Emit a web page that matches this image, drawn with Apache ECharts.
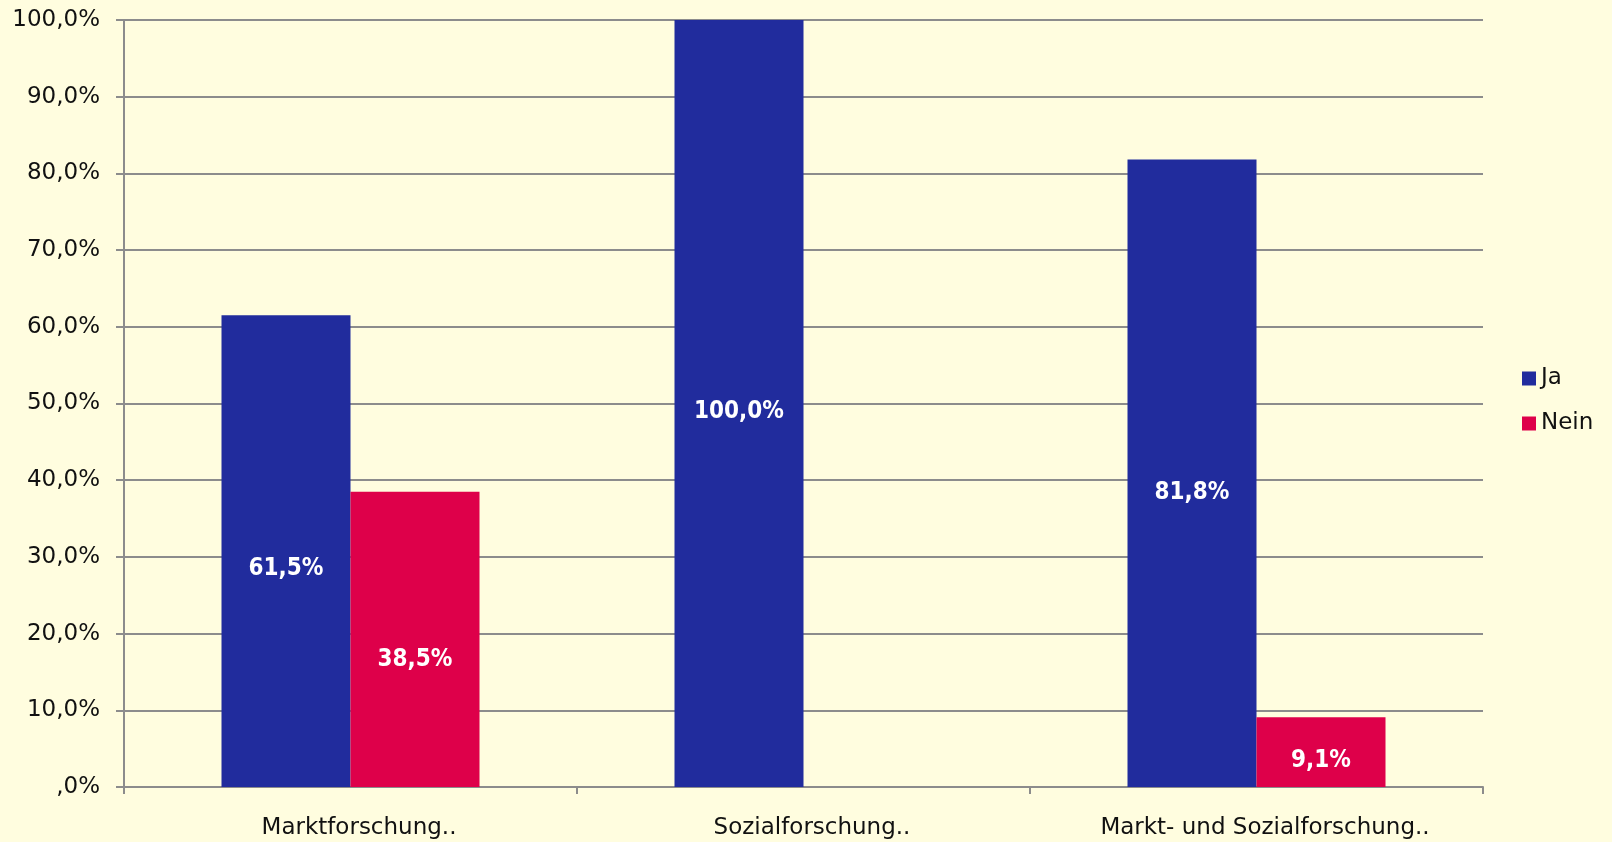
<!DOCTYPE html>
<html>
<head>
<meta charset="utf-8">
<script src="https://cdn.jsdelivr.net/npm/echarts@6/dist/echarts.min.js"></script>
<style>
  html, body { margin: 0; padding: 0; background: #FFFDDF; }
  #chart { width: 1612px; height: 842px; }
</style>
</head>
<body>
<div id="chart"></div>
<script>
// Share of answers per research field
const categories = ['Marktforschung..', 'Sozialforschung..', 'Markt- und Sozialforschung..'];
const seriesNames = ['Ja', 'Nein'];
const jaValues = [61.5, 100.0, 81.8];
const neinValues = [38.5, null, 9.1];
const yTickLabels = [',0%', '10,0%', '20,0%', '30,0%', '40,0%', '50,0%', '60,0%', '70,0%', '80,0%', '90,0%', '100,0%'];

// vertical nudge of each value label inside its bar
const jaLabelShift = [18, 8, 19];
const neinLabelShift = [20, 0, 9];

const FONT = '"DejaVu Sans", "Liberation Sans", sans-serif';
const LABEL_FONT = '"DejaVu Sans Condensed", "DejaVu Sans", sans-serif';
const fmtPct = v => v.toFixed(1).replace('.', ',') + '%';

const chart = echarts.init(document.getElementById('chart'), null, { renderer: 'canvas' });

const labelBase = {
  show: true,
  position: 'inside',
  color: '#ffffff',
  fontFamily: LABEL_FONT,
  fontWeight: 'bold',
  fontSize: 24,
  formatter: p => (p.value == null ? '' : fmtPct(p.value))
};

const withLabels = (values, shifts) =>
  values.map((v, i) => ({ value: v, label: Object.assign({}, labelBase, { offset: [0, shifts[i]] }) }));

chart.setOption({
  backgroundColor: '#FFFDDF',
  animation: false,
  grid: { left: 124, right: 129, top: 20, bottom: 55, containLabel: false },
  legend: {
    orient: 'vertical',
    left: 1517,
    top: 362,
    itemWidth: 14,
    itemHeight: 14,
    itemGap: 22,
    icon: 'rect',
    textStyle: { fontFamily: FONT, fontSize: 23, color: '#111111', padding: [0, 0, 0, 0] },
    data: seriesNames
  },
  xAxis: {
    type: 'category',
    data: categories,
    axisLine: { lineStyle: { color: '#8C8C8C', width: 2 } },
    axisTick: { show: true, length: 7, alignWithLabel: false, lineStyle: { color: '#8C8C8C', width: 2 } },
    axisLabel: { fontFamily: FONT, fontSize: 23, color: '#111111', margin: 30, padding: [0, 0, 0, 17] }
  },
  yAxis: {
    type: 'value',
    min: 0,
    max: 100,
    interval: 10,
    axisLine: { show: true, lineStyle: { color: '#8C8C8C', width: 2 } },
    axisTick: { show: true, length: 8, lineStyle: { color: '#8C8C8C', width: 2 } },
    splitLine: { lineStyle: { color: '#8C8C8C', width: 2 } },
    axisLabel: {
      fontFamily: FONT, fontSize: 23, color: '#111111', margin: 24,
      formatter: v => yTickLabels[Math.round(v / 10)]
    }
  },
  series: [
    {
      name: seriesNames[0],
      type: 'bar',
      data: withLabels(jaValues, jaLabelShift),
      barWidth: 129,
      barGap: '0%',
      itemStyle: { color: '#212C9D' }
    },
    {
      name: seriesNames[1],
      type: 'bar',
      data: withLabels(neinValues, neinLabelShift),
      barWidth: 129,
      barGap: '0%',
      itemStyle: { color: '#DE004A' }
    }
  ]
});
</script>
</body>
</html>
